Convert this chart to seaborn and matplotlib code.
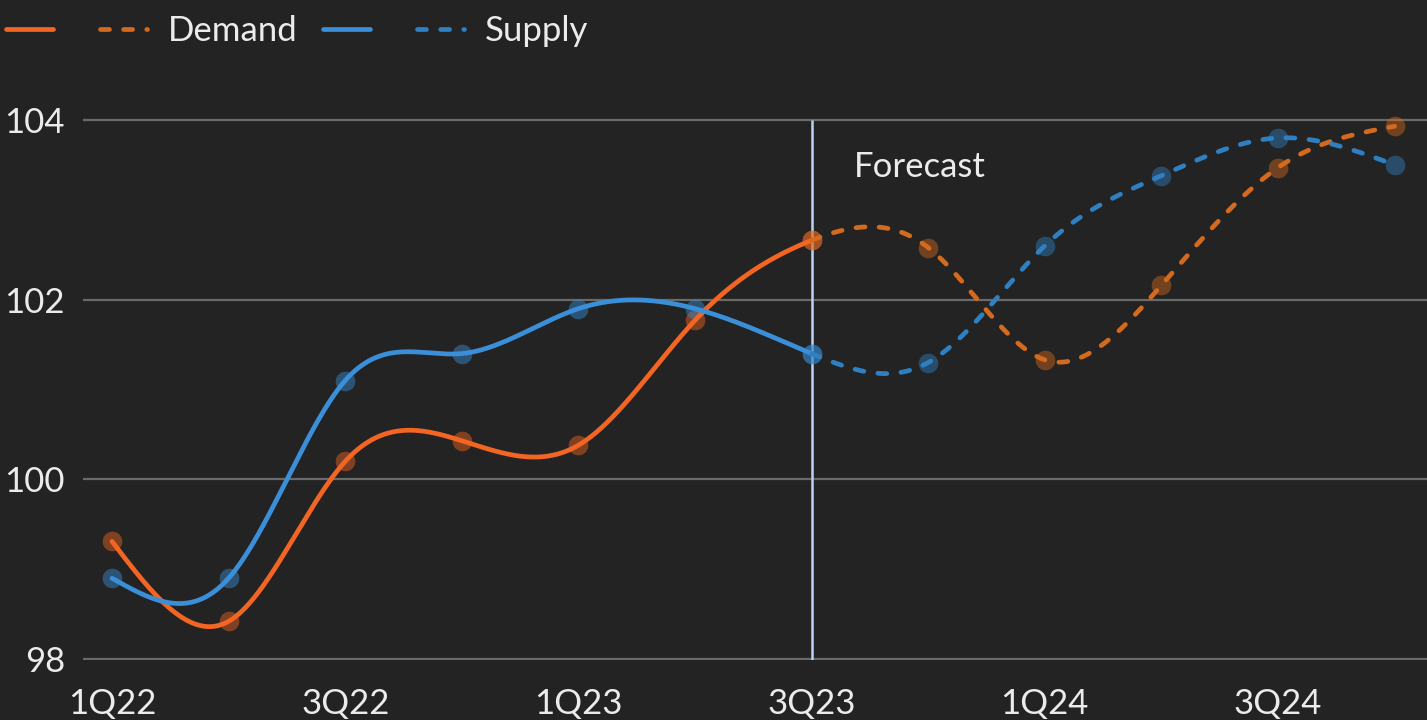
import numpy as np
import matplotlib
matplotlib.use("Agg")
import matplotlib.pyplot as plt
import seaborn as sns
from matplotlib.lines import Line2D

# ---- data ----
quarters = ["1Q22", "2Q22", "3Q22", "4Q22", "1Q23", "2Q23", "3Q23",
            "4Q23", "1Q24", "2Q24", "3Q24", "4Q24"]
demand = [99.31, 98.42, 100.20, 100.43, 100.38, 101.77, 102.66,
          102.58, 101.33, 102.16, 103.47, 103.93]
supply = [98.90, 98.90, 101.10, 101.40, 101.90, 101.90, 101.40,
          101.30, 102.60, 103.38, 103.80, 103.50]
forecast_start = "3Q23"
yticks = [98, 100, 102, 104]
xtick_labels = ["1Q22", "3Q22", "1Q23", "3Q23", "1Q24", "3Q24"]

# ---- style ----
BG = "#232323"
ORANGE = "#F26522"
ORANGE_D = "#D46A1E"
BLUE = "#3A8FD8"
BLUE_D = "#2F80C2"
TXT = "#EBEBEB"
FS = 25
LW = 3.4
DASH = (0, (1.9, 3.0))

sns.set_theme(style="dark", rc={
    "figure.facecolor": BG, "axes.facecolor": BG,
    "axes.edgecolor": BG, "grid.color": "#6A6A6A",
})
plt.rcParams["font.family"] = ["Lato", "DejaVu Sans"]
plt.rcParams["font.weight"] = "normal"
plt.rcParams["lines.dash_capstyle"] = "round"
plt.rcParams["lines.solid_capstyle"] = "round"


def natural_spline(x, y, xs):
    x = np.asarray(x, float)
    y = np.asarray(y, float)
    n = len(x)
    h = np.diff(x)
    A = np.zeros((n, n))
    b = np.zeros(n)
    A[0, 0] = 1
    A[-1, -1] = 1
    for i in range(1, n - 1):
        A[i, i - 1] = h[i - 1]
        A[i, i] = 2 * (h[i - 1] + h[i])
        A[i, i + 1] = h[i]
        b[i] = 6 * ((y[i + 1] - y[i]) / h[i] - (y[i] - y[i - 1]) / h[i - 1])
    M = np.linalg.solve(A, b)
    idx = np.clip(np.searchsorted(x, xs) - 1, 0, n - 2)
    x0, x1 = x[idx], x[idx + 1]
    hh = x1 - x0
    t0 = x1 - xs
    t1 = xs - x0
    return (M[idx] * t0 ** 3 / (6 * hh) + M[idx + 1] * t1 ** 3 / (6 * hh)
            + (y[idx] / hh - M[idx] * hh / 6) * t0
            + (y[idx + 1] / hh - M[idx + 1] * hh / 6) * t1)


fig = plt.figure(figsize=(14.27, 7.2), dpi=100)
ax = fig.add_axes([83 / 1427, 60 / 720, (1427 - 83) / 1427, 560 / 720])

xi = np.arange(len(quarters))
fi = quarters.index(forecast_start)
xs = np.linspace(0, len(quarters) - 1, 1200)

for vals, c_solid, c_dash in [(demand, ORANGE, ORANGE_D), (supply, BLUE, BLUE_D)]:
    ys = natural_spline(xi, vals, xs)
    m1 = xs <= fi
    m2 = xs >= fi
    sns.scatterplot(x=xi[:fi + 1], y=vals[:fi + 1], ax=ax, s=200, color=c_solid,
                    alpha=0.45, linewidth=0, zorder=3)
    sns.scatterplot(x=xi[fi:], y=vals[fi:], ax=ax, s=200, color=c_dash,
                    alpha=0.45, linewidth=0, zorder=3)
    sns.lineplot(x=xs[m1], y=ys[m1], ax=ax, color=c_solid, lw=LW,
                 estimator=None, sort=False, zorder=4)
    ax.lines[-1].set_solid_capstyle("round")
    sns.lineplot(x=xs[m2], y=ys[m2], ax=ax, color=c_dash, lw=LW,
                 estimator=None, sort=False, zorder=4)
    ln = ax.lines[-1]
    ln.set_linestyle(DASH)
    ln.set_dash_capstyle("round")

ax.axvline(fi, ymin=0, ymax=(104 - 97.99) / (104.222 - 97.99),
           color="#BBD3F2", lw=1.8, zorder=2, solid_capstyle="butt")
ax.text(fi + 0.36, 103.48, "Forecast", color=TXT, fontsize=FS,
        ha="left", va="center")

ax.set_xlim((83 - 112) / 116.6, (1427 - 112) / 116.6)
ax.set_ylim(97.99, 104.222)
ax.set_yticks(yticks)
ax.set_yticklabels([str(t) for t in yticks])
ax.set_xticks([quarters.index(q) for q in xtick_labels])
ax.set_xticklabels(xtick_labels)
ax.tick_params(axis="both", colors=TXT, labelsize=FS, length=0)
ax.tick_params(axis="y", pad=13)
ax.tick_params(axis="x", pad=20)
ax.grid(axis="y", color="#6A6A6A", lw=1.6)
ax.grid(axis="x", visible=False)
ax.set_xlabel("")
ax.set_ylabel("")
for s in ax.spines.values():
    s.set_visible(False)

handles = [
    Line2D([], [], color=ORANGE, lw=LW, solid_capstyle="round"),
    Line2D([], [], color=ORANGE_D, lw=LW, linestyle=DASH, dash_capstyle="round"),
    Line2D([], [], color=BLUE, lw=LW, solid_capstyle="round"),
    Line2D([], [], color=BLUE_D, lw=LW, linestyle=DASH, dash_capstyle="round"),
]
leg = fig.legend(handles=handles, labels=["", "Demand", "", "Supply"], ncol=4,
                 loc="center left", bbox_to_anchor=(6 / 1427, 1 - 31 / 720),
                 frameon=False, fontsize=FS, handlelength=1.35,
                 handletextpad=0.6, columnspacing=0.75, borderpad=0,
                 borderaxespad=0)
for t in leg.get_texts():
    t.set_color(TXT)

fig.savefig("out.png", dpi=100, facecolor=BG)
